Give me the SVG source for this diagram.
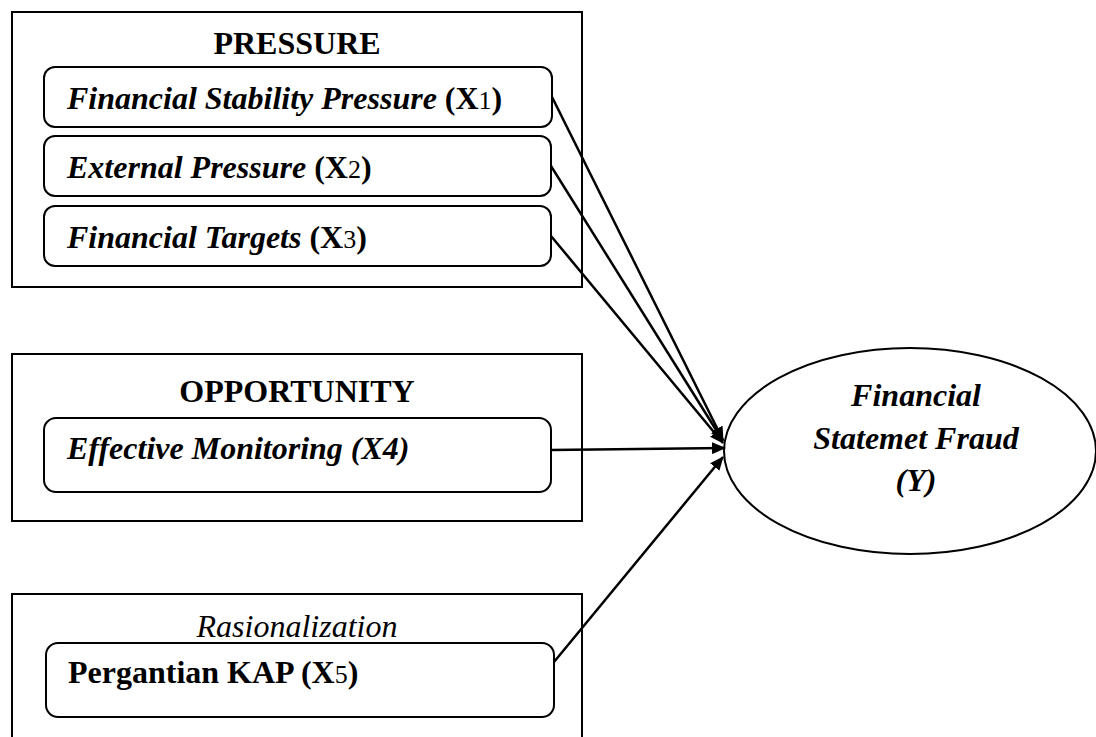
<svg xmlns="http://www.w3.org/2000/svg" width="1096" height="737" viewBox="0 0 1096 737">
<defs>
<marker id="arr" viewBox="0 0 14 12" refX="13" refY="6" markerWidth="14" markerHeight="12" markerUnits="userSpaceOnUse" orient="auto">
<path d="M0,0 L14,6 L0,12 z" fill="#000"/>
</marker>
<style>
.outer{fill:#fff;stroke:#000;stroke-width:2}
.inner{fill:#fff;stroke:#000;stroke-width:2}
.t{font-family:"Liberation Serif","Times New Roman",serif;font-size:32px;fill:#000}
.b{font-weight:bold}
.i{font-style:italic}
.sm{font-weight:normal;font-style:normal;font-size:26px}
.conn{stroke:#000;stroke-width:2.5;fill:none;marker-end:url(#arr)}
</style>
</defs>
<rect width="1096" height="737" fill="#fff"/>

<g id="pressure">
<rect class="outer" x="12" y="12" width="570" height="275"/>
<text class="t b" x="297" y="54" text-anchor="middle">PRESSURE</text>
</g>
<g id="x1">
<rect class="inner" x="44" y="67" width="508" height="60" rx="11"/>
<text class="t" x="67" y="109"><tspan class="b i">Financial Stability Pressure</tspan><tspan class="b"> (X</tspan><tspan class="sm">1</tspan><tspan class="b">)</tspan></text>
</g>
<g id="x2">
<rect class="inner" x="44" y="136" width="507" height="60" rx="11"/>
<text class="t" x="67" y="178"><tspan class="b i">External Pressure</tspan><tspan class="b"> (X</tspan><tspan class="sm">2</tspan><tspan class="b">)</tspan></text>
</g>
<g id="x3">
<rect class="inner" x="44" y="206" width="507" height="60" rx="11"/>
<text class="t" x="67" y="248"><tspan class="b i">Financial Targets</tspan><tspan class="b"> (X</tspan><tspan class="sm">3</tspan><tspan class="b">)</tspan></text>
</g>

<g id="opportunity">
<rect class="outer" x="12" y="354" width="570" height="167"/>
<text class="t b" x="297" y="402" text-anchor="middle">OPPORTUNITY</text>
</g>
<g id="x4">
<rect class="inner" x="44" y="418" width="507" height="74" rx="12"/>
<text class="t b i" x="67" y="459">Effective Monitoring (X4)</text>
</g>

<g id="rasionalization">
<rect class="outer" x="12" y="594" width="570" height="160"/>
<text class="t i" x="297" y="637" text-anchor="middle">Rasionalization</text>
</g>
<g id="x5">
<rect class="inner" x="46" y="643" width="508" height="74" rx="12"/>
<text class="t" x="68" y="683"><tspan class="b">Pergantian KAP (X</tspan><tspan class="sm">5</tspan><tspan class="b">)</tspan></text>
</g>

<g id="y">
<ellipse cx="910" cy="451" rx="186" ry="103" fill="#fff" stroke="#000" stroke-width="2"/>
<text class="t b i" x="916" y="406" text-anchor="middle">Financial</text>
<text class="t b i" x="916" y="449" text-anchor="middle">Statemet Fraud</text>
<text class="t b i" x="916" y="491" text-anchor="middle">(Y)</text>
</g>

<g id="connectors">
<line class="conn" x1="552" y1="97" x2="723" y2="440"/>
<line class="conn" x1="551" y1="166" x2="723" y2="441"/>
<line class="conn" x1="551" y1="236" x2="723" y2="443"/>
<line class="conn" x1="551" y1="450" x2="725" y2="448"/>
<line class="conn" x1="554" y1="662" x2="723" y2="457"/>
</g>
</svg>
